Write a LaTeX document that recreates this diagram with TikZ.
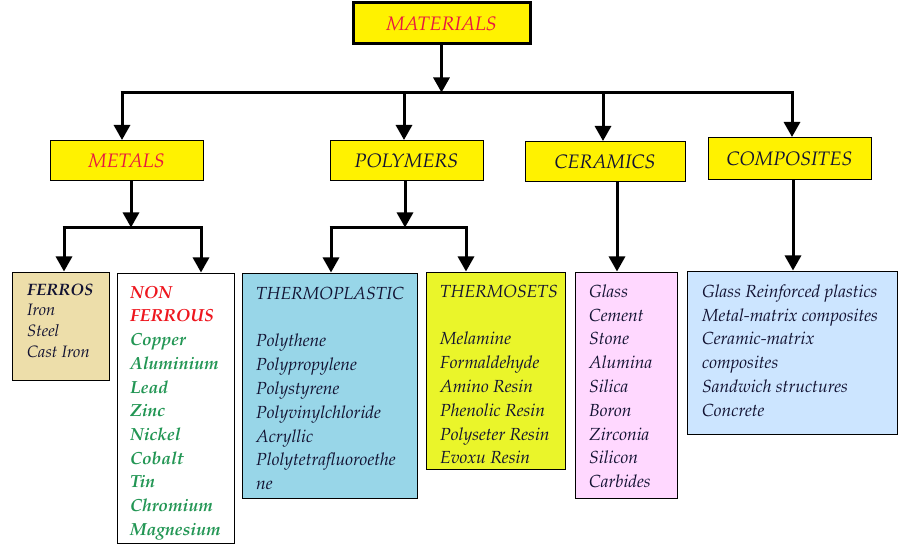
\documentclass[tikz,border=0pt]{standalone}
\usepackage[T1]{fontenc}
\usepackage{mathpazo}
\usetikzlibrary{arrows.meta}
\definecolor{hdryellow}{RGB}{255,242,0}
\definecolor{matred}{RGB}{232,24,64}
\definecolor{nfred}{RGB}{238,22,30}
\definecolor{nfgreen}{RGB}{34,150,84}
\definecolor{darkink}{RGB}{18,18,50}
\definecolor{tan}{RGB}{237,222,170}
\definecolor{tpblue}{RGB}{152,214,232}
\definecolor{tsyellow}{RGB}{234,245,42}
\definecolor{cerpink}{RGB}{255,216,255}
\definecolor{compblue}{RGB}{204,229,255}
\newcommand{\topstrut}{\rule{0pt}{14pt}}
\tikzset{
  hdr/.style={draw=black, line width=1pt, fill=hdryellow, inner sep=0pt,
    font=\fontsize{19.5}{22}\selectfont\itshape},
  listbox/.style={draw=black, line width=1pt, inner sep=0pt, anchor=north west},
  listtext/.style={inner sep=0pt, anchor=north west, align=left, text=darkink,
    font=\fontsize{17.5}{23.8}\selectfont\itshape},
  conn/.style={line width=3pt, draw=black},
  arr/.style={conn, -{Triangle[width=16pt,length=15pt]}, shorten >=0.5pt},
}
\begin{document}
\begin{tikzpicture}[x=1pt,y=-1pt]
\useasboundingbox (0,0) rectangle (905,553);
% header boxes
\node[hdr, line width=3pt, minimum width=177pt, minimum height=41pt, text=matred] (materials) at (441.5,23.5) {MATERIALS};
\node[hdr, minimum width=153pt, minimum height=40pt, text=matred] (metals) at (126.5,161) {METALS};
\node[hdr, minimum width=153pt, minimum height=40pt, text=darkink] (polymers) at (406.5,161) {POLYMERS};
\node[hdr, minimum width=160pt, minimum height=40pt, text=darkink] (ceramics) at (605,162) {CERAMICS};
\node[hdr, minimum width=163pt, minimum height=42pt, text=darkink] (composites) at (789.5,159) {COMPOSITES};
% list boxes
\node[listbox, fill=tan, minimum width=97pt, minimum height=108pt] (ferros) at (12,272) {};
\node[listbox, fill=white, minimum width=117pt, minimum height=270pt] (nonferrous) at (117,273) {};
\node[listbox, fill=tpblue, minimum width=175pt, minimum height=225pt] (thermoplastic) at (242,273) {};
\node[listbox, fill=tsyellow, minimum width=139pt, minimum height=197pt] (thermosets) at (426,272) {};
\node[listbox, fill=cerpink, minimum width=102pt, minimum height=226pt] (cerlist) at (575,272) {};
\node[listbox, fill=compblue, minimum width=210pt, minimum height=163pt] (complist) at (687,271) {};
% texts (node top = first baseline - 14)
\node[listtext, font=\fontsize{16.5}{20.7}\selectfont\itshape] (ferrostext) at (27,281)
  {\topstrut\textbf{FERROS}\\Iron\\Steel\\Cast Iron};
\node[listtext, font=\fontsize{17.5}{23.7}\selectfont\itshape\bfseries] (nftext) at (130,284)
  {\topstrut\textcolor{nfred}{NON}\\\textcolor{nfred}{FERROUS}\\\textcolor{nfgreen}{Copper}\\\textcolor{nfgreen}{Aluminium}\\\textcolor{nfgreen}{Lead}\\\textcolor{nfgreen}{Zinc}\\\textcolor{nfgreen}{Nickel}\\\textcolor{nfgreen}{Cobalt}\\\textcolor{nfgreen}{Tin}\\\textcolor{nfgreen}{Chromium}\\\textcolor{nfgreen}{Magnesium}};
\node[listtext] (tptext) at (256,285)
  {\topstrut THERMOPLASTIC\\[23.8pt]Polythene\\Polypropylene\\Polystyrene\\Polyvinylchloride\\Acryllic\\Plolytetrafluoroethe\\ne};
\node[listtext] (tstext) at (440,283)
  {\topstrut THERMOSETS\\[23.8pt]Melamine\\Formaldehyde\\Amino Resin\\Phenolic Resin\\Polyseter Resin\\Evoxu Resin};
\node[listtext] (certext) at (589,283)
  {\topstrut Glass\\Cement\\Stone\\Alumina\\Silica\\Boron\\Zirconia\\Silicon\\Carbides};
\node[listtext] (comptext) at (702,283)
  {\topstrut Glass Reinforced plastics\\Metal-matrix composites\\Ceramic-matrix\\composites\\Sandwich structures\\Concrete};
% main bus
\coordinate (b1) at (122,93);
\coordinate (b2) at (404,93);
\coordinate (b3) at (603,93);
\coordinate (b4) at (792,93);
\draw[arr] (materials.south) -- (materials.south |- b1);
\draw[conn] ([xshift=-1.5pt]b1) -- ([xshift=1.5pt]b4);
\draw[arr] ([yshift=-1.5pt]b1) -- (b1 |- metals.north);
\draw[arr] ([yshift=-1.5pt]b2) -- (b2 |- polymers.north);
\draw[arr] ([yshift=-1.5pt]b3) -- (b3 |- ceramics.north);
\draw[arr] ([yshift=-1.5pt]b4) -- (b4 |- composites.north);
% metals subtree
\coordinate (mtop) at (131,181);
\coordinate (mj) at (131,228);
\coordinate (m1) at (64,228);
\coordinate (m2) at (201,228);
\draw[arr] (mtop) -- (mj);
\draw[conn] ([xshift=-1.5pt]m1) -- ([xshift=1.5pt]m2);
\draw[arr] ([yshift=-1.5pt]m1) -- (m1 |- ferros.north);
\draw[arr] ([yshift=-1.5pt]m2) -- (m2 |- nonferrous.north);
% polymers subtree
\coordinate (ptop) at (405,181);
\coordinate (pj) at (405,228);
\coordinate (p1) at (331,228);
\coordinate (p2) at (466,228);
\draw[arr] (ptop) -- (pj);
\draw[conn] ([xshift=-1.5pt]p1) -- ([xshift=1.5pt]p2);
\draw[arr] ([yshift=-1.5pt]p1) -- (p1 |- thermoplastic.north);
\draw[arr] ([yshift=-1.5pt]p2) -- (p2 |- thermosets.north);
% ceramics and composites
\coordinate (cx) at (617,0);
\coordinate (kx) at (793,0);
\draw[arr] (cx |- ceramics.south) -- (cx |- cerlist.north);
\draw[arr] (kx |- composites.south) -- (kx |- complist.north);
\end{tikzpicture}
\end{document}
